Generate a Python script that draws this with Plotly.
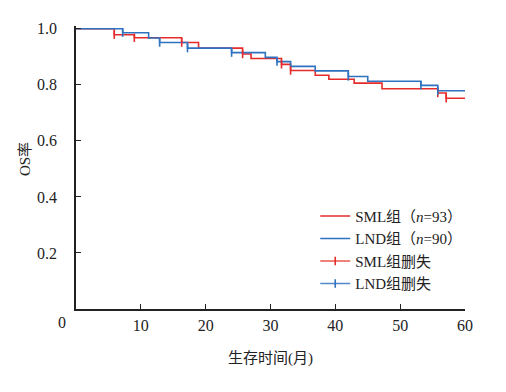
import plotly.graph_objects as go

# SML group (red) step curve: event times and survival after each step
sml_time = [0, 5.9, 9.0, 16.3, 18.9, 25.7, 27.0, 31.7, 33.1, 36.9, 39.0, 42.9, 47.2, 55.8, 57.1, 60]
sml_surv = [1.0, 0.979, 0.968, 0.951, 0.931, 0.910, 0.894, 0.873, 0.851, 0.834, 0.820, 0.806, 0.786, 0.771, 0.752, 0.752]

# LND group (blue)
lnd_time = [0, 7.2, 11.2, 12.9, 17.2, 24.0, 29.2, 31.0, 33.1, 36.9, 42.0, 45.0, 53.2, 55.8, 60]
lnd_surv = [1.0, 0.986, 0.967, 0.951, 0.931, 0.915, 0.898, 0.883, 0.866, 0.850, 0.830, 0.813, 0.798, 0.779, 0.779]

# censored observations
sml_cens_time = [5.9, 9.0, 16.3, 25.7, 31.7, 33.1, 55.8, 57.1]
sml_cens_surv = [0.979, 0.968, 0.951, 0.910, 0.873, 0.851, 0.771, 0.752]
lnd_cens_time = [7.2, 12.9, 17.2, 24.0, 31.0, 42.0, 53.2, 55.8]
lnd_cens_surv = [0.986, 0.951, 0.931, 0.915, 0.883, 0.830, 0.798, 0.779]

x_ticks = [10, 20, 30, 40, 50, 60]
y_ticks = [0.2, 0.4, 0.6, 0.8, 1.0]
y_tick_text = ["0.2", "0.4", "0.6", "0.8", "1.0"]

RED = "#e62b2b"
BLUE = "#2f72c0"
RED_C = "#ea5a4e"
BLUE_C = "#5588c8"
FONT = "'Liberation Serif', 'Noto Sans CJK SC', serif"


def isolate(xs, ys):
    ox, oy = [], []
    for a, b in zip(xs, ys):
        ox += [a, None]
        oy += [b, None]
    return ox, oy


fig = go.Figure()
fig.add_trace(go.Scatter(x=sml_time, y=sml_surv, mode="lines", line=dict(color=RED, width=1.6, shape="hv"),
                         name="SML组（<i>n</i>=93）"))
fig.add_trace(go.Scatter(x=lnd_time, y=lnd_surv, mode="lines", line=dict(color=BLUE, width=1.6, shape="hv"),
                         name="LND组（<i>n</i>=90）"))
cx, cy = isolate(sml_cens_time, sml_cens_surv)
fig.add_trace(go.Scatter(x=cx, y=cy, mode="lines+markers", line=dict(color=RED_C, width=1.6),
                         marker=dict(symbol="line-ns", size=6, line=dict(color=RED, width=1.6)),
                         name="SML组删失", cliponaxis=False))
cx, cy = isolate(lnd_cens_time, lnd_cens_surv)
fig.add_trace(go.Scatter(x=cx, y=cy, mode="lines+markers", line=dict(color=BLUE_C, width=1.6),
                         marker=dict(symbol="line-ns", size=6, line=dict(color=BLUE, width=1.6)),
                         name="LND组删失", cliponaxis=False))

# page body has an 8px margin, so the figure is drawn offset by (8, 8)
L, T = 68, 14
R, B = 49, 91
fig.update_layout(
    width=506, height=392,
    margin=dict(l=L, r=R, t=T, b=B),
    paper_bgcolor="white", plot_bgcolor="white",
    font=dict(family=FONT, size=15, color="#222"),
    showlegend=True,
    legend=dict(x=0.615, y=0.386, xanchor="left", yanchor="top", bgcolor="rgba(0,0,0,0)",
                font=dict(family=FONT, size=15, color="#222"), tracegroupgap=0),
    xaxis=dict(range=[0, 60], tickvals=x_ticks, ticks="inside", ticklen=5, tickwidth=1.2, tickcolor="#222",
               showline=True, linecolor="#222", linewidth=1.5, showgrid=False, zeroline=False,
               ticklabelstandoff=1, tickfont=dict(family=FONT, size=16),
               title=dict(text="生存时间(月)", font=dict(family=FONT, size=15), standoff=20)),
    yaxis=dict(range=[0, 1.01], tickvals=y_ticks, ticktext=y_tick_text, ticks="inside", ticklen=5,
               tickwidth=1.2, tickcolor="#222",
               showline=True, linecolor="#222", linewidth=1.5, showgrid=False, zeroline=False,
               ticklabelstandoff=14, tickfont=dict(family=FONT, size=16)),
)
pw = 506 - L - R
ph = 392 - T - B
fig.add_annotation(text="0", x=(54 - L) / pw, y=(301 - 315) / ph, xref="paper", yref="paper",
                   showarrow=False, xanchor="center", yanchor="middle",
                   font=dict(family=FONT, size=16))
fig.add_annotation(text="OS率", x=(17 - L) / pw, y=(301 - 149) / ph, xref="paper", yref="paper",
                   showarrow=False, xanchor="center", yanchor="middle", textangle=-90,
                   font=dict(family=FONT, size=15))

fig.write_html("out.html")
